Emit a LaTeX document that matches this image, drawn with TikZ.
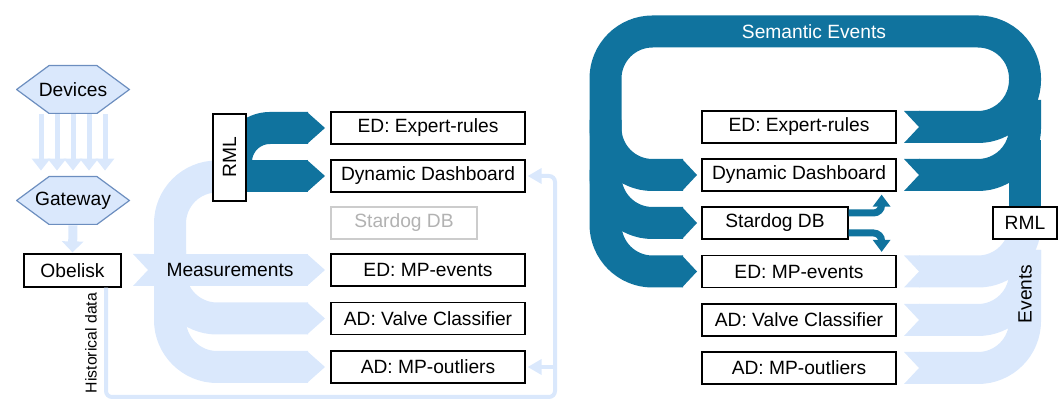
\documentclass[tikz,border=0pt]{standalone}
\usepackage{fontspec}
\setmainfont{Liberation Sans}
\usetikzlibrary{arrows.meta}
\definecolor{flowdark}{HTML}{10739E}
\definecolor{flowlight}{HTML}{DAE8FC}
\definecolor{hexline}{HTML}{6C8EBF}
\newcommand{\flowfont}{\fontsize{9.6}{11}\selectfont}
\newcommand{\notefont}{\fontsize{7.9}{9}\selectfont}
\pgfdeclarelayer{flows}
\pgfsetlayers{flows,main}
\tikzset{
  box/.style={draw, fill=white, line width=0.6pt, minimum width=97pt, minimum height=16pt, inner sep=1pt, font=\flowfont},
  ghostbox/.style={box, draw=black!20, text=black!30},
  hexbox/.style={minimum width=57pt, minimum height=24.5pt, inner sep=1pt, font=\flowfont,
    path picture={\filldraw[draw=hexline, fill=flowlight, line width=0.6pt]
      ([xshift=0.3pt]path picture bounding box.west)
      -- ([xshift=16.5pt,yshift=-0.3pt]path picture bounding box.north west)
      -- ([xshift=-16.5pt,yshift=-0.3pt]path picture bounding box.north east)
      -- ([xshift=-0.3pt]path picture bounding box.east)
      -- ([xshift=-16.5pt,yshift=0.3pt]path picture bounding box.south east)
      -- ([xshift=16.5pt,yshift=0.3pt]path picture bounding box.south west) -- cycle;}},
  band/.style={line width=16pt, rounded corners=23.5pt},
  darkband/.style={band, draw=flowdark},
  lightband/.style={band, draw=flowlight},
  devflow/.style={draw=flowlight, line width=2.5pt, -{Triangle[width=9pt,length=6pt]}, shorten >=2.5pt},
  histline/.style={draw=flowlight, line width=2pt, rounded corners=3pt, -{Triangle[width=7.5pt,length=7pt]}, shorten >=1pt},
  dbflow/.style={draw=flowdark, line width=3.5pt, rounded corners=4pt, -{Triangle[width=8.5pt,length=6pt]}, shorten >=1.5pt}
}
\begin{document}
\begin{tikzpicture}[x=0.5pt,y=-0.5pt]
\useasboundingbox (0,0) rectangle (1064,399);
% sources
\node[hexbox] (dev) at (73,89.5) {Devices};
\node[hexbox] (gw) at (73,200.5) {Gateway};
\node[box, minimum width=48.5pt, minimum height=16.5pt] (obl) at (72.5,270.5) {Obelisk};
\node[box, rotate=90, minimum width=43.5pt, minimum height=16.5pt] (lrml) at (229.5,157.5) {RML};
% left column
\node[box] (lexp) at (428,128) {ED: Expert-rules};
\node[box] (ldd) at (428,176) {Dynamic Dashboard};
\node[ghostbox, minimum width=73pt] (lsd) at (404,223) {Stardog DB};
\node[box] (lmpe) at (428,270) {ED: MP-events};
\node[box] (lvc) at (428,318.5) {AD: Valve Classifier};
\node[box] (lmpo) at (428,367) {AD: MP-outliers};
% right column
\node[box] (rexp) at (799,127) {ED: Expert-rules};
\node[box] (rdd) at (799,175) {Dynamic Dashboard};
\node[box, minimum width=73pt] (rsd) at (775,223) {Stardog DB};
\node[box] (rmpe) at (799,271.5) {ED: MP-events};
\node[box] (rvc) at (799,320) {AD: Valve Classifier};
\node[box] (rmpo) at (799,368) {AD: MP-outliers};
\node[box, minimum width=32pt] (rrml) at (1025,223) {RML};
% labels
\node[font=\flowfont] (meas) at (230,270) {Measurements};
\node[font=\notefont, rotate=90] (histlbl) at (91,343) {Historical data};
\node[font=\flowfont, text=white] (semlbl) at (814,32) {Semantic Events};
\node[font=\flowfont, rotate=90] (evlbl) at (1025,294) {Events};

% connectors
\foreach \dx in {-16,-8,0,8,16}
  \draw[devflow] ([xshift=\dx pt]dev.south) -- ([xshift=\dx pt]gw.north);
\draw[draw=flowlight, line width=4.5pt, -{Triangle[width=10.5pt,length=5.5pt]}, shorten >=0.5pt] (gw.south) -- (obl.north);
\coordinate (hist) at (555,397);
\draw[histline] ([xshift=16.75pt]obl.south) |- (hist) |- (ldd.east);
\draw[histline] (hist |- lmpo.east) -- (lmpo.east);
\draw[dbflow] ([yshift=5pt]rsd.east) -| ([xshift=-7.5pt]rdd.south east);
\draw[dbflow] ([yshift=-5pt]rsd.east) -| ([xshift=-7.5pt]rmpe.north east);

\begin{pgfonlayer}{flows}
% RML to rules and dashboard
\draw[darkband, rounded corners=17pt] (236,176) -- (236,128) -- (308,128);
\draw[darkband] (236,176) -- (308,176);
\foreach \y in {128,176}
  \fill[flowdark] (307,\y-16) -- (325,\y) -- (307,\y+16) -- cycle;
% measurements
\draw[lightband] (229,176.5) -- (170,176.5) -- (170,367) -- (308,367);
\draw[lightband] (170,250) -- (170,318.5) -- (308,318.5);
\draw[lightband] (148,270) -- (308,270);
\fill[flowlight] (133,254) -- (148,270) -- (133,286) -- (149,286) -- (149,254) -- cycle;
\foreach \y in {270,318.5,367}
  \fill[flowlight] (307,\y-16) -- (325,\y) -- (307,\y+16) -- cycle;
% semantic events loop
\draw[darkband] (919,127) -- (1025,127) -- (1025,31.5) -- (605.5,31.5) -- (605.5,271.5) -- (683,271.5);
\draw[darkband] (919,175) -- (1025,175) -- (1025,100);
\draw[darkband] (1025,223) -- (1025,140);
\draw[darkband] (605.5,120) -- (605.5,175) -- (683,175);
\draw[darkband] (605.5,170) -- (605.5,223) -- (683,223);
\foreach \y in {175,223,271.5}
  \fill[flowdark] (682,\y-16) -- (697,\y) -- (682,\y+16) -- cycle;
\foreach \y in {127,175}
  \fill[flowdark] (904,\y-16) -- (919,\y) -- (904,\y+16) -- (920,\y+16) -- (920,\y-16) -- cycle;
% events back to RML
\draw[lightband] (919,271.5) -- (1025,271.5) -- (1025,223);
\draw[lightband] (919,320) -- (1025,320) -- (1025,250);
\draw[lightband] (919,368) -- (1025,368) -- (1025,250);
\foreach \y in {271.5,320,368}
  \fill[flowlight] (904,\y-16) -- (919,\y) -- (904,\y+16) -- (920,\y+16) -- (920,\y-16) -- cycle;
\end{pgfonlayer}
\end{tikzpicture}
\end{document}
